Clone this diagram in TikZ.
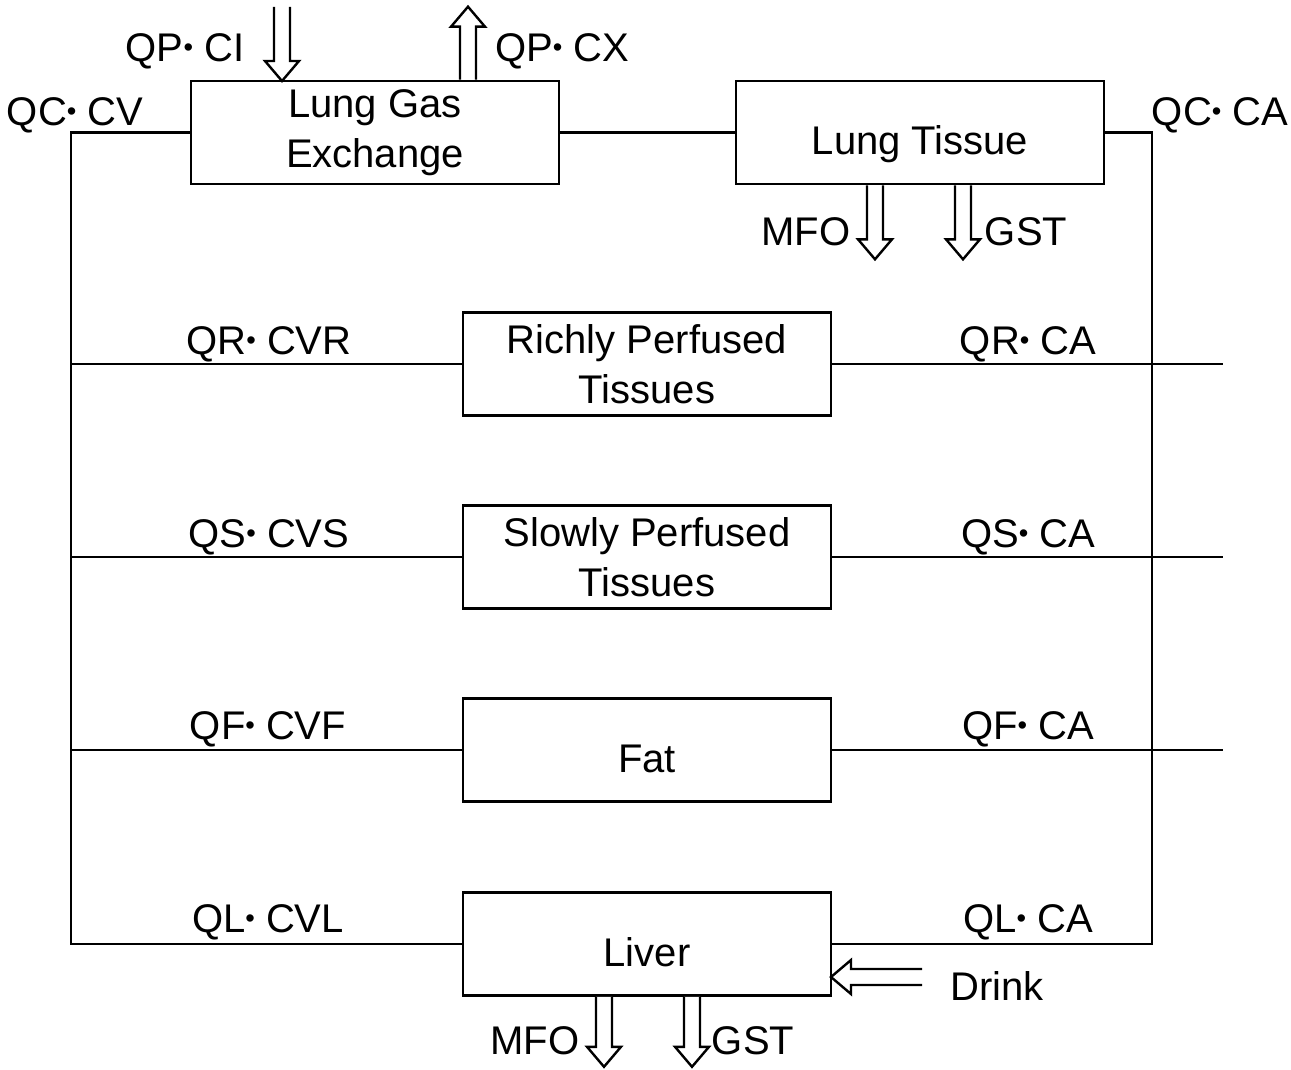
\documentclass[tikz,border=0pt]{standalone}
\usepackage{fontspec}
\setmainfont{Liberation Sans}
\usetikzlibrary{positioning, calc}

\newcommand{\mdot}{\raisebox{0.12em}{\scalebox{0.68}{•}}}

\tikzset{
  organ/.style={draw, line width=1.3pt, minimum width=184pt, minimum height=51.5pt,
                align=center, inner sep=0pt, fill=white},
  single/.style={text height=22pt, text depth=0pt},
  flow/.style={line width=1.3pt},
  lbl/.style={inner sep=0pt},
  pics/hollow/.style={code={
    \draw[line width=1.2pt, fill=white] (0,-8) -- (#1-20,-8) -- (#1-20,-17)
      -- (#1,0) -- (#1-20,17) -- (#1-20,8) -- (0,8);
  }}
}

\begin{document}
\begin{tikzpicture}[x=0.5pt, y=-0.5pt, font=\fontsize{20}{25}\selectfont]

    \useasboundingbox (0,0) rectangle (1291,1070);

    % Compartments
    \node[organ] (lgx)   at (375,132.5) {Lung Gas\\Exchange};
    \node[organ, single] (ltis)  at (920,132.5) {Lung Tissue};
    \node[organ] (rich)  at (647,364)   {Richly Perfused\\Tissues};
    \node[organ] (slow)  at (647,557)   {Slowly Perfused\\Tissues};
    \node[organ, single] (fat)   at (647,750)   {Fat};
    \node[organ, single] (liver) at (647,944)   {Liver};

    % Venous side on the left, arterial side on the right
    \coordinate (vein)   at (71,132.5);
    \coordinate (artery) at (1152,132.5);
    \coordinate (rend)   at (1223,0);
    \draw[flow] (lgx.west) -- (vein) |- (liver.west);
    \draw[flow] (ltis.east) -- (artery) |- (liver.east);
    \draw[flow] (lgx.east) -- (ltis.west);
    \foreach \o in {rich,slow,fat} {
      \draw[flow] (\o.west) -- (\o.west -| vein);
      \draw[flow] (\o.east) -- (\o.east -| rend);
    }

    % Inhaled and exhaled air
    \coordinate (inhale) at (282,7);
    \coordinate (exhale) at (468,8);
    \pic[rotate=-90] at (inhale) {hollow=74};
    \pic[rotate=90] at (lgx.north -| exhale) {hollow=73};

    % Metabolism in lung tissue
    \coordinate (lmfo) at (875,0);
    \coordinate (lgst) at (963,0);
    \pic[rotate=-90] at (ltis.south -| lmfo) {hollow=74};
    \pic[rotate=-90] at (ltis.south -| lgst) {hollow=74};

    % Metabolism in the liver, and drinking water
    \coordinate (hmfo)  at (604,0);
    \coordinate (hgst)  at (692,0);
    \coordinate (drink) at (922,977);
    \pic[rotate=-90] at (liver.south -| hmfo) {hollow=70};
    \pic[rotate=-90] at (liver.south -| hgst) {hollow=70};
    \pic[rotate=180] at (drink) {hollow=91};

    % Flow labels
    \node[lbl] (qccv)  at (75,115)   {QC\mdot{} CV};
    \node[lbl] (qpci)  at (185,51)   {QP\mdot{} CI};
    \node[lbl] (qpcx)  at (562,51)   {QP\mdot{} CX};
    \node[lbl] (qcca)  at (1220,115) {QC\mdot{} CA};
    \node[lbl] (lmfot) at (806,232)  {MFO};
    \node[lbl] (lgstt) at (1026,232) {GST};
    \node[lbl] (qrcvr) at (269,344)  {QR\mdot{} CVR};
    \node[lbl] (qrca)  at (1028,344) {QR\mdot{} CA};
    \node[lbl] (qscvs) at (269,537)  {QS\mdot{} CVS};
    \node[lbl] (qsca)  at (1028,537) {QS\mdot{} CA};
    \node[lbl] (qfcvf) at (268,729)  {QF\mdot{} CVF};
    \node[lbl] (qfca)  at (1028,729) {QF\mdot{} CA};
    \node[lbl] (qlcvl) at (268,922)  {QL\mdot{} CVL};
    \node[lbl] (qlca)  at (1028,922) {QL\mdot{} CA};
    \node[lbl] (drinkt) at (997,986) {Drink};
    \node[lbl] (hmfot) at (535,1041) {MFO};
    \node[lbl] (hgstt) at (753,1041) {GST};

\end{tikzpicture}
\end{document}
